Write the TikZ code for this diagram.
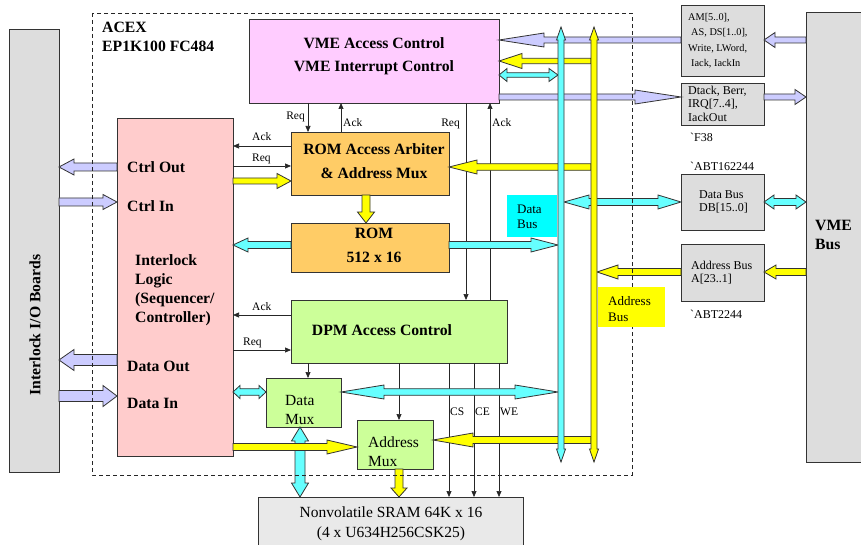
\documentclass[tikz,border=0pt]{standalone}
\usepackage{fontspec}
\setmainfont{Liberation Serif}
\usetikzlibrary{calc,arrows.meta}

\definecolor{lav}{HTML}{CCCCFF}
\definecolor{cyn}{HTML}{66FFFF}
\definecolor{cynlab}{HTML}{00FFFF}
\definecolor{ylw}{HTML}{FFFF00}
\definecolor{pnk}{HTML}{FFCCCC}
\definecolor{vio}{HTML}{FFCCFF}
\definecolor{org}{HTML}{FFCC66}
\definecolor{grn}{HTML}{CCFF99}
\definecolor{gry}{HTML}{DDDDDD}
\definecolor{lgry}{HTML}{E9E9E9}
\definecolor{edge}{HTML}{333333}

\tikzset{
  box/.style={draw=edge, line width=0.9pt, inner sep=0pt, outer sep=0pt, anchor=north west},
  ttl/.style={font=\fontsize{15.7}{19}\selectfont\bfseries, inner sep=0pt},
  txt/.style={font=\fontsize{15.5}{19}\selectfont, inner sep=0pt},
  mid/.style={font=\fontsize{13}{15}\selectfont, inner sep=0pt},
  sml/.style={font=\fontsize{12}{14}\selectfont, inner sep=0pt},
  tny/.style={font=\fontsize{10.3}{12}\selectfont, inner sep=0pt},
  lbl/.style={font=\fontsize{11.5}{13}\selectfont, inner sep=0pt},
  sig/.style={draw=black!85, line width=0.7pt, -{Triangle[length=6pt,width=5pt]}},
  barrow/.style={draw=edge, line width=0.8pt, line join=miter},
}

% single-headed block arrow: fill, tail, tip, shaft half width, head half width, head length
\newcommand\onearrow[6]{%
  \coordinate (bxt) at (#2);
  \coordinate (bxp) at (#3);
  \coordinate (bxh) at ($(bxp)!#6pt!(bxt)$);
  \filldraw[barrow, fill=#1]
    ($(bxt)!#4pt!90:(bxp)$) -- ($(bxh)!#4pt!-90:(bxt)$) -- ($(bxh)!#5pt!-90:(bxt)$)
    -- (bxp) -- ($(bxh)!#5pt!90:(bxt)$) -- ($(bxh)!#4pt!90:(bxt)$)
    -- ($(bxt)!#4pt!-90:(bxp)$) -- cycle;}

% double-headed block arrow: fill, end 1, end 2, shaft half width, head half width, head lengths
\newcommand\twoarrow[7]{%
  \coordinate (bxt) at (#2);
  \coordinate (bxp) at (#3);
  \coordinate (bxh) at ($(bxp)!#7pt!(bxt)$);
  \coordinate (bxg) at ($(bxt)!#6pt!(bxp)$);
  \filldraw[barrow, fill=#1]
    (bxt) -- ($(bxg)!#5pt!90:(bxp)$) -- ($(bxg)!#4pt!90:(bxp)$)
    -- ($(bxh)!#4pt!-90:(bxt)$) -- ($(bxh)!#5pt!-90:(bxt)$) -- (bxp)
    -- ($(bxh)!#5pt!90:(bxt)$) -- ($(bxh)!#4pt!90:(bxt)$)
    -- ($(bxg)!#4pt!-90:(bxp)$) -- ($(bxg)!#5pt!-90:(bxp)$) -- cycle;}

\begin{document}
\begin{tikzpicture}[x=1pt, y=-1pt]
\useasboundingbox[fill=white] (0,0) rectangle (861,545);

% ---------- blocks ----------
\node[box, fill=gry, minimum width=50pt, minimum height=443pt] (iob) at (9,29) {};
\node[box, fill=pnk, minimum width=116pt, minimum height=338pt] (il) at (117,118) {};
\node[box, fill=vio, minimum width=250pt, minimum height=84pt] (vac) at (249,19) {};
\node[box, fill=org, minimum width=158pt, minimum height=63pt] (arb) at (291,132) {};
\node[box, fill=org, minimum width=158pt, minimum height=49pt] (rom) at (291,223) {};
\node[box, fill=grn, minimum width=216pt, minimum height=63pt] (dpm) at (291,300) {};
\node[box, fill=grn, minimum width=75pt, minimum height=49pt] (dmx) at (266,378) {};
\node[box, fill=grn, minimum width=76pt, minimum height=49pt] (amx) at (357,420) {};
\node[box, fill=lgry, minimum width=265pt, minimum height=60pt] (sram) at (258,497) {};
\node[box, fill=gry, minimum width=70pt, minimum height=450pt] (vme) at (806,12) {};
\node[box, fill=gry, minimum width=83pt, minimum height=71pt] (bctl) at (681,5) {};
\node[box, fill=gry, minimum width=83pt, minimum height=42pt] (birq) at (681,83) {};
\node[box, fill=gry, minimum width=83pt, minimum height=56pt] (bdat) at (681,174) {};
\node[box, fill=gry, minimum width=83pt, minimum height=57pt] (badr) at (681,244) {};

% bus rails
\coordinate (dbT) at (561,27);  \coordinate (dbB) at (561,462);
\coordinate (abT) at (594,27);  \coordinate (abB) at (594,462);
\coordinate (dbL) at (558,0);   \coordinate (dbR) at (564,0);
\coordinate (abL) at (591,0);   \coordinate (abR) at (597,0);

% ---------- control signals ----------
\draw[sig] (vac.south -| 308,0) -- (arb.north -| 308,0);
\draw[sig] (arb.north -| 341,0) -- (vac.south -| 341,0);
\draw[sig] (vac.south -| 466,0) -- (dpm.north -| 466,0);
\draw[sig] (dpm.north -| 490,0) -- (vac.south -| 490,0);
\draw[sig] (arb.west |- 0,146) -- (il.east |- 0,146);
\draw[sig] (il.east |- 0,166) -- (arb.west |- 0,166);
\draw[sig] (dpm.west |- 0,315) -- (il.east |- 0,315);
\draw[sig] (il.east |- 0,350) -- (dpm.west |- 0,350);
\draw[sig] (dpm.south -| 308,0) -- (dmx.north -| 308,0);
\draw[sig] (dpm.south -| 399,0) -- (amx.north -| 399,0);
\draw[sig] (dpm.south -| 449,0) -- (sram.north -| 449,0);
\draw[sig] (dpm.south -| 474,0) -- (sram.north -| 474,0);
\draw[sig] (dpm.south -| 499,0) -- (sram.north -| 499,0);

\node[lbl, anchor=base east] (lq1) at (305,120) {Req};
\node[lbl, anchor=base west] (la1) at (343,127) {Ack};
\node[lbl, anchor=base east] (lq2) at (460,127) {Req};
\node[lbl, anchor=base west] (la2) at (492,127) {Ack};
\node[lbl, anchor=base west] (la3) at (252,141) {Ack};
\node[lbl, anchor=base west] (lq3) at (252,162) {Req};
\node[lbl, anchor=base west] (la4) at (252,310) {Ack};
\node[lbl, anchor=base west] (lq4) at (243,345) {Req};
\node[lbl, anchor=base west] (lcs) at (450,415) {CS};
\node[lbl, anchor=base west] (lce) at (475,415) {CE};
\node[lbl, anchor=base west] (lwe) at (500,415) {WE};

% ---------- block arrows ----------
% VME side
\onearrow{lav}{vme.west |- 0,40}{bctl.east |- 0,40}{3}{7.5}{11}
\onearrow{lav}{bctl.west |- 0,40}{vac.east |- 0,40}{3}{7}{45}
\onearrow{lav}{vac.east |- 0,97}{birq.west |- 0,97}{3}{7}{46}
\onearrow{lav}{birq.east |- 0,97}{vme.west |- 0,97}{3}{7.5}{11}
\onearrow{ylw}{abL |- 0,61}{vac.east |- 0,61}{2.7}{7.5}{23}
\twoarrow{cyn}{vac.east |- 0,75}{dbL |- 0,75}{2.3}{6.5}{8}{9}
\twoarrow{cyn}{dbR |- 0,202}{bdat.west |- 0,202}{3.5}{7}{25}{23}
\twoarrow{cyn}{bdat.east |- 0,202}{vme.west |- 0,202}{3.5}{7}{10}{10}
\onearrow{ylw}{badr.west |- 0,272}{abR |- 0,272}{3.5}{7}{21}
\onearrow{ylw}{vme.west |- 0,272}{badr.east |- 0,272}{3.5}{7}{12}

% ROM path
\onearrow{ylw}{abL |- 0,167}{arb.east |- 0,167}{3.3}{7}{28}
\onearrow{ylw}{il.east |- 0,181}{arb.west |- 0,181}{3}{7.5}{14}
\onearrow{ylw}{arb.south -| 366,0}{rom.north -| 366,0}{4}{8.5}{11}
\onearrow{cyn}{rom.west |- 0,245}{il.east |- 0,245}{3.5}{7}{15}
\onearrow{cyn}{rom.east |- 0,245}{dbL |- 0,245}{3.5}{7}{27}

% interlock I/O
\onearrow{lav}{il.west |- 0,167}{iob.east |- 0,167}{4}{8}{15}
\onearrow{lav}{iob.east |- 0,202}{il.west |- 0,202}{4}{7.5}{14}
\onearrow{lav}{il.west |- 0,360}{iob.east |- 0,360}{5.5}{10.5}{15}
\onearrow{lav}{iob.east |- 0,396}{il.west |- 0,396}{5.5}{10.5}{14}

% DPM path
\twoarrow{cyn}{il.east |- 0,392}{dmx.west |- 0,392}{3.3}{6.5}{7}{7}
\twoarrow{cyn}{dmx.east |- 0,392}{dbL |- 0,392}{3.3}{7}{43}{43}
\twoarrow{cyn}{dmx.south -| 300,0}{sram.north -| 300,0}{5}{8.5}{14}{14}
\onearrow{ylw}{il.east |- 0,447}{amx.west |- 0,447}{3.5}{7}{30}
\onearrow{ylw}{amx.south -| 399,0}{sram.north -| 399,0}{4}{8}{9}
\onearrow{ylw}{abL |- 0,440}{amx.east |- 0,440}{3.5}{7}{40}

% bus rails on top
\twoarrow{cyn}{dbB}{dbT}{3}{4.5}{13}{13}
\twoarrow{ylw}{abB}{abT}{3}{4.5}{13}{13}

% ---------- device outline ----------
\draw[black!85, line width=0.7pt, dash pattern=on 4pt off 3pt] (92,13) rectangle (632,475);

% bus labels
\node[box, draw=none, fill=cynlab, minimum width=50pt, minimum height=42pt] (dblab) at (507,195) {};
\node[box, draw=none, fill=ylw, minimum width=67pt, minimum height=40pt] (ablab) at (598,287) {};
\node[mid, anchor=base west] (dbt1) at (517,214) {Data};
\node[mid, anchor=base west] (dbt2) at (517,229) {Bus};
\node[mid, anchor=base west] (abt1) at (608,305) {Address};
\node[mid, anchor=base west] (abt2) at (608,321) {Bus};

% ---------- texts ----------
\node[ttl, anchor=base west] (acx1) at (102,33) {ACEX};
\node[ttl, anchor=base west] (acx2) at (102,52) {EP1K100 FC484};
\node[ttl, anchor=base] (vact1) at (374,49) {VME Access Control};
\node[ttl, anchor=base] (vact2) at (374,72) {VME Interrupt Control};
\node[ttl, anchor=base] (arbt1) at (374,155) {ROM Access Arbiter};
\node[ttl, anchor=base] (arbt2) at (374,179) {\& Address Mux};
\node[ttl, anchor=base] (romt1) at (374,239) {ROM};
\node[ttl, anchor=base] (romt2) at (374,262) {512 x 16};
\node[ttl, anchor=base] (dpmt) at (382,335) {DPM Access Control};
\node[ttl, anchor=base west] (ilt1) at (127,173) {Ctrl Out};
\node[ttl, anchor=base west] (ilt2) at (127,212) {Ctrl In};
\node[ttl, anchor=base west] (ilt3) at (135,265) {Interlock};
\node[ttl, anchor=base west] (ilt4) at (135,284) {Logic};
\node[ttl, anchor=base west] (ilt5) at (135,303) {(Sequencer/};
\node[ttl, anchor=base west] (ilt6) at (135,322) {Controller)};
\node[ttl, anchor=base west] (ilt7) at (127,371) {Data Out};
\node[ttl, anchor=base west] (ilt8) at (127,408) {Data In};
\node[ttl, rotate=90] (iobt) at (35,325) {Interlock I/O Boards};
\node[ttl, anchor=base west] (vmet1) at (815,230) {VME};
\node[ttl, anchor=base west] (vmet2) at (815,249) {Bus};
\node[txt, anchor=base west] (dmxt1) at (285,405) {Data};
\node[txt, anchor=base west] (dmxt2) at (285,424) {Mux};
\node[txt, anchor=base west] (amxt1) at (368,447) {Address};
\node[txt, anchor=base west] (amxt2) at (368,466) {Mux};
\node[txt, anchor=base] (sramt1) at (391,517) {Nonvolatile SRAM 64K x 16};
\node[txt, anchor=base] (sramt2) at (391,537) {(4 x U634H256CSK25)};

\node[tny, anchor=base west] (c1) at (688,21) {AM[5..0],};
\node[tny, anchor=base west] (c2) at (691,36) {AS, DS[1..0],};
\node[tny, anchor=base west] (c3) at (688,52) {Write, LWord,};
\node[tny, anchor=base west] (c4) at (691,67) {Iack, IackIn};
\node[sml, anchor=base west] (q1) at (688,95) {Dtack, Berr,};
\node[sml, anchor=base west] (q2) at (688,108) {IRQ[7..4],};
\node[sml, anchor=base west] (q3) at (688,122) {IackOut};
\node[sml, anchor=base west] (pf38) at (690,142) {\textasciigrave F38};
\node[sml, anchor=base west] (pabt1) at (690,171) {\textasciigrave ABT162244};
\node[sml, anchor=base west] (d1) at (699,199) {Data Bus};
\node[sml, anchor=base west] (d2) at (699,212) {DB[15..0]};
\node[sml, anchor=base west] (a1) at (691,269) {Address Bus};
\node[sml, anchor=base west] (a2) at (691,282) {A[23..1]};
\node[sml, anchor=base west] (pabt2) at (690,318) {\textasciigrave ABT2244};
\end{tikzpicture}
\end{document}
